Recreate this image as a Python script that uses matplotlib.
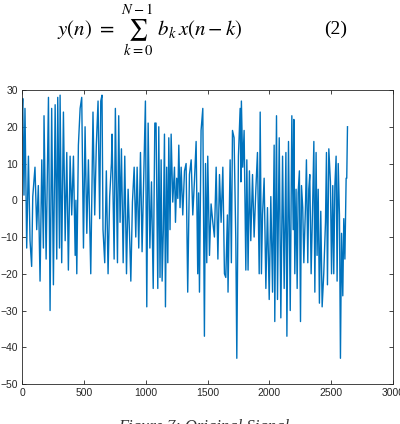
import matplotlib
matplotlib.use('Agg')
import matplotlib.pyplot as plt

# peaks / troughs (sample index, amplitude)
sample_idx = [
    0, 6, 16, 24, 38, 52, 65, 78, 87, 105, 119, 132, 146, 160, 173, 178, 195, 214, 227, 240,
    254, 268, 281, 289, 303, 308, 321, 335, 349, 362, 375, 389, 402, 416, 430, 436, 443, 456, 470, 483,
    497, 510, 524, 537,
    556, 566, 574, 588, 601, 615, 628, 637, 647, 655, 669, 682, 696, 709, 723, 728, 745, 755, 772, 782,
    793, 804, 818, 831, 845, 858, 872, 880, 893, 907, 920, 931, 944, 958, 971, 985, 998, 1009, 1020, 1034,
    1047, 1061, 1074, 1084,
    1098, 1106, 1116, 1125, 1133, 1143, 1152, 1160, 1170, 1179, 1187, 1197, 1206, 1219, 1233, 1241, 1251, 1260, 1268, 1278,
    1287, 1300, 1314, 1327, 1340, 1354, 1368, 1381, 1394, 1408, 1421, 1428, 1435, 1448, 1462, 1475, 1484, 1494, 1502, 1516,
    1529, 1543, 1556, 1570, 1584, 1597, 1610, 1624, 1637,
    1648, 1661, 1666, 1683, 1693, 1702, 1715, 1729, 1737, 1750, 1764, 1770, 1774, 1785, 1796, 1810, 1818, 1828, 1839, 1850,
    1864, 1877, 1891, 1904, 1918, 1926, 1936, 1945, 1958, 1972, 1985, 1999, 2012, 2026, 2039, 2044, 2058, 2066, 2080, 2093,
    2107, 2120, 2134, 2142, 2155, 2169, 2182, 2193,
    2198, 2206, 2216, 2225, 2233, 2243, 2252, 2260, 2270, 2279, 2292, 2300, 2311, 2319, 2327, 2338, 2351, 2360, 2368, 2378,
    2386, 2395, 2405, 2416, 2427, 2440, 2454, 2462, 2470, 2481, 2494, 2503, 2513, 2521, 2530, 2540, 2548, 2557, 2567, 2575,
    2584, 2594, 2602, 2611, 2621, 2626, 2632,
]
amplitude = [
    22, 27.7, 1.4, 25, -13, 12, -11, -18, 1, 9, -8, 4, -22, 11, -13, 23, -16, 28, -30, 25,
    -23, 26, -16, 28, -13, 28.6, -17, 24, -11, 13, -19, 12, -4, 12, -15, 0, -20, 15, 25, 28,
    -13, 20, -9, 11,
    -20, 4, 24, -4, 15, 27, -5, 27, 28.6, -8, -17, 8, -20, 1, 10, 18, -16, 25, -17, 23,
    -6, 14, -17, 12, -20, 3, -12, -22, -0.5, 9, -10, 9, -13, 13, -14, 7, 27, -29, 21, -13,
    5, -24, 21, 21,
    -24, 20, -21, 11, -22, -8, 18, -29, 9, -17, 17, -8, 18, -0.5, 9, -6, 6, 0.5, 15, -2,
    9, -4, 8, 10, -25, 7, 11, -4, 5, 16, -20, 2, -25, 19, 25, -37, 10, -17, 12, -15,
    -1, -6, -10, 9, -16, 7, -6, 9, -20,
    -21, -4, -25, 11, -17, 19, 17, -11, -43, 12, 25, 5, 27, 9, 19, -19, 11, -19, 8, -11,
    7, -10, 3, 13, -20, 24, -20, -4, 6, -24, -2, -27, 1, -25, 15, -33, 23, -27, 17, -32,
    12, -24, 13, -37, 16, -30, 23, -8,
    22, -20, 3, -24, 2, 8, -33, 4, -2, -17, -2, 11, -17, 3, 7, -20, 0, 16, -25, 13,
    -15, 3, -28, -3, -29, -20, -6, 13, -23, 14, 5, -20, 4, -20, 4, 12, -22, 10, -4, -43,
    -9, -26, -5, -16, 6, 6, 20,
]

x_ticks = [0, 500, 1000, 1500, 2000, 2500, 3000]
y_ticks = [-50, -40, -30, -20, -10, 0, 10, 20, 30]

plt.rcParams['font.family'] = ['Liberation Sans', 'DejaVu Sans']
plt.rcParams['mathtext.fontset'] = 'stix'

fig = plt.figure(figsize=(4.0, 4.24), dpi=100)
ax = fig.add_axes([0.055, 0.0943, 0.9275, 0.6934])

ax.plot(sample_idx, amplitude, color='#0072BD', linewidth=1.0)

ax.set_xlim(0, 3000)
ax.set_ylim(-50, 30)
ax.set_xticks(x_ticks)
ax.set_yticks(y_ticks)
ax.tick_params(direction='in', top=True, right=True, labeltop=False, labelright=False,
               length=3, width=0.6, colors='#262626', labelsize=7.5, pad=3)
for s in ax.spines.values():
    s.set_color('#262626')
    s.set_linewidth(0.6)

# equation above the plot
fig.text(0.375, 0.928, r'$y(n)\ =\ \sum_{k=0}^{N-1}\ b_k\, x(n-k)$',
         ha='center', va='center', fontsize=15, color='black')
fig.text(0.84, 0.93, '(2)', ha='center', va='center', fontsize=14,
         family='Liberation Serif', color='black')

# caption
fig.text(0.51, 1 - 419 / 424, 'Figure 7: Original Signal', ha='center', va='top',
         fontsize=12, family='Liberation Serif', style='italic', color='#333333')

fig.savefig('out.png', dpi=100)
